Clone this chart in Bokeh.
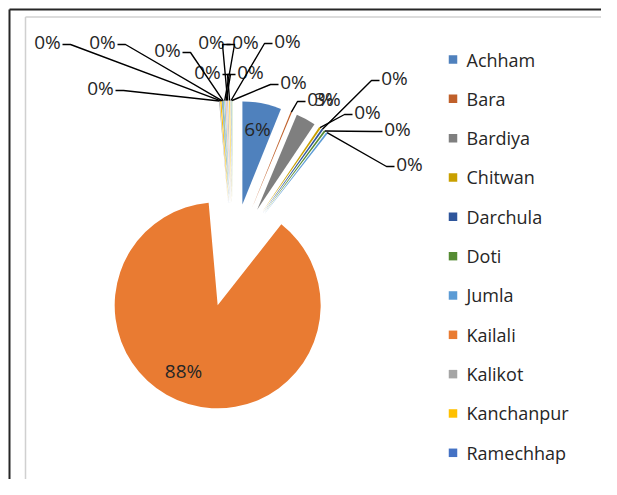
import math
from bokeh.plotting import figure
from bokeh.models import Range1d, ColumnDataSource
from bokeh.core.properties import value
from bokeh.embed import file_html
from bokeh.resources import INLINE

# ---------------- data ----------------
# Districts in legend order (only the first 11 are visible in the legend;
# the remaining tiny slices have no visible legend entry).
districts = ["Achham", "Bara", "Bardiya", "Chitwan", "Darchula", "Doti",
             "Jumla", "Kailali", "Kalikot", "Kanchanpur", "Ramechhap",
             "Rautahat", "Rolpa", "Rukum", "Salyan", "Surkhet", "Syangja",
             "Udayapur"]
shares = [6.1, 0.2, 3.1, 0.3, 0.3, 0.3,
          0.3, 88.0, 0.1, 0.2, 0.1,
          0.1, 0.2, 0.1, 0.2, 0.2, 0.1,
          0.1]
slice_colors = ["#4F81BD", "#C0602A", "#7F7F7F", "#C9A000", "#2E559B", "#558B33",
                "#5B9BD5", "#E97B32", "#A5A5A5", "#FFC000", "#4472C4",
                "#70AD47", "#9DC3E6", "#F4B183", "#C9C9C9", "#FFD966", "#8FAADC",
                "#A9D18E"]
legend_shown = 11

# ---------------- layout (picture pixel coordinates) ----------------
W, H = 601, 479
CX, CY = 232, 255          # pie centre
R = 103                    # slice radius
EXPLODE = 52               # explosion distance
FONT = "Open Sans"
TXT = "#262626"

# data-label anchor positions and leader side
label_pos = [(257, 128), (320, 98), (327, 98), (367, 111), (394, 77), (397, 128),
             (409, 163), (183, 370), (100, 87), (47, 41), (102, 41), (167, 49),
             (211, 41), (207, 71), (245, 41), (250, 71), (287, 40), (293, 81)]
label_side = ["in", "R", "none", "R", "R", "R",
              "R", "in", "L", "L", "L", "L",
              "L", "L", "R", "R", "R", "R"]

def Y(py):
    return -py

p = figure(width=W, height=H, x_range=Range1d(0, W),
           y_range=Range1d(-H, 0), output_backend="svg",
           toolbar_location=None, min_border=0,
           x_axis_type=None, y_axis_type=None)
p.grid.visible = False
p.outline_line_color = None
p.background_fill_color = "white"
p.border_fill_color = "white"

# frame borders
p.line([9, W + 5], [Y(9), Y(9)], line_color="#262626", line_width=2)
p.line([9, 9], [Y(9), Y(H + 5)], line_color="#262626", line_width=2)
p.line([25, W + 5], [Y(16.5), Y(16.5)], line_color="#D0D0D0", line_width=1.5)
p.line([25, 25], [Y(16.5), Y(H + 5)], line_color="#D0D0D0", line_width=1.5)

# ---------------- pie slices ----------------
total = float(sum(shares))
xs, ys, st, en, mids = [], [], [], [], []
cum = 0.0
for s in shares:
    t1 = cum / total * 360.0
    cum += s
    t2 = cum / total * 360.0
    mid = math.radians((t1 + t2) / 2)
    mids.append(mid)
    xs.append(CX + EXPLODE * math.sin(mid))
    ys.append(Y(CY - EXPLODE * math.cos(mid)))
    st.append(math.radians(90 - t2))
    en.append(math.radians(90 - t1))

src = ColumnDataSource(dict(x=xs, y=ys, start=st, end=en, color=slice_colors))
p.wedge(x="x", y="y", radius=R, start_angle="start", end_angle="end",
        fill_color="color", line_color=None, source=src)

# ---------------- data labels ----------------
pct = ["%d%%" % round(s / total * 100) for s in shares]
lx = [lp[0] for lp in label_pos]
ly = [Y(lp[1]) for lp in label_pos]
p.text(x=lx, y=ly, text=pct, text_font=value(FONT), text_font_size="19px",
       text_align="center", text_baseline="middle", text_color=TXT)

# leader lines
lead_x, lead_y = [], []
HW = 14
for i, side in enumerate(label_side):
    if side not in ("L", "R"):
        continue
    m = mids[i]
    sx = CX + (EXPLODE + R) * math.sin(m)
    sy = CY - (EXPLODE + R) * math.cos(m)
    px, py = label_pos[i]
    if side == "R":
        ex, ey = px - HW - 1, py + 3
        bx = ex - 8
    else:
        ex, ey = px + HW + 1, py + 3
        bx = ex + 8
    lead_x.append([sx, bx, ex])
    lead_y.append([Y(sy), Y(ey), Y(ey)])
p.multi_line(xs=lead_x, ys=lead_y, line_color="black", line_width=1.4)

# ---------------- legend ----------------
leg_y = [Y(59 + i * 39.33) for i in range(legend_shown)]
p.rect(x=[452.5] * legend_shown, y=leg_y, width=8.5, height=8.5,
       fill_color=slice_colors[:legend_shown], line_color=None)
p.text(x=[466] * legend_shown, y=leg_y, text=districts[:legend_shown],
       text_font=value(FONT), text_font_size="18px", text_align="left",
       text_baseline="middle", text_color=TXT)

open("out.html", "w").write(file_html(p, INLINE))
